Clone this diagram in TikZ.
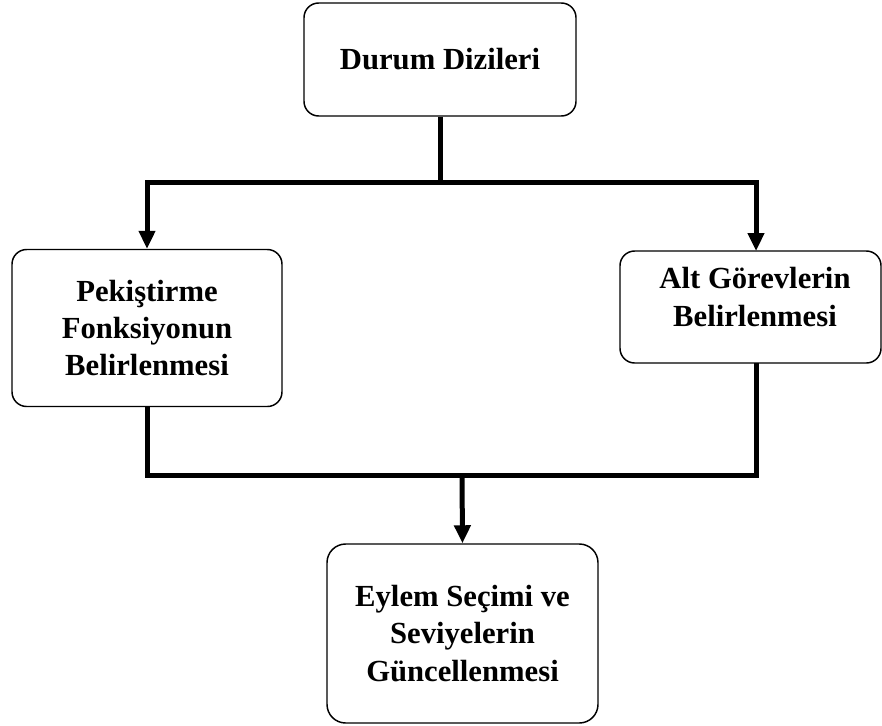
\documentclass[tikz,border=0pt]{standalone}
\usepackage{fontspec}
\setmainfont{Liberation Serif}
\usetikzlibrary{arrows.meta}
\begin{document}
\begin{tikzpicture}[x=0.75pt,y=-0.75pt,
  stepbox/.style={draw=black, line width=1.1pt, rounded corners=11pt,
    align=center, inner sep=0pt,
    font=\bfseries\fontsize{23}{28}\selectfont},
  steptext/.style={align=center, inner sep=0pt,
    font=\bfseries\fontsize{23}{28}\selectfont},
  link/.style={line width=3.75pt},
  flow/.style={link, -{Triangle[length=13.5pt,width=12pt]}}]
  \useasboundingbox (0,0) rectangle (882,725);

  % boxes
  \node[stepbox, minimum width=204pt, minimum height=84.75pt] (durum) at (440,59.5) {Durum Dizileri};
  \node[stepbox, minimum width=202.5pt, minimum height=117.75pt] (pek) at (147,328)
    {Pekiştirme\\Fonksiyonun\\Belirlenmesi};
  \node[stepbox, minimum width=195.75pt, minimum height=84pt] (alt) at (750.5,307) {};
  \node[steptext] (alttext) at (755,297) {Alt Görevlerin\\Belirlenmesi};
  \node[stepbox, minimum width=203.25pt, minimum height=134.25pt, rounded corners=14pt] (eylem) at (462.5,633.5)
    {Eylem Seçimi ve\\Seviyelerin\\Güncellenmesi};

  % junction points
  \coordinate (split) at (440,182);
  \coordinate (altin) at (756,251);
  \coordinate (altout) at (756,363);
  \coordinate (merge) at (462,475);

  % split from the top box
  \draw[link] (durum.south) -- (split);
  \draw[flow] (split) -| (pek.north);
  \draw[flow] (split) -| (altin);

  % merge into the bottom box
  \draw[link] (pek.south) |- (merge);
  \draw[link] (altout) |- (merge);
  \draw[flow] (merge) -- (eylem.north);
\end{tikzpicture}
\end{document}
